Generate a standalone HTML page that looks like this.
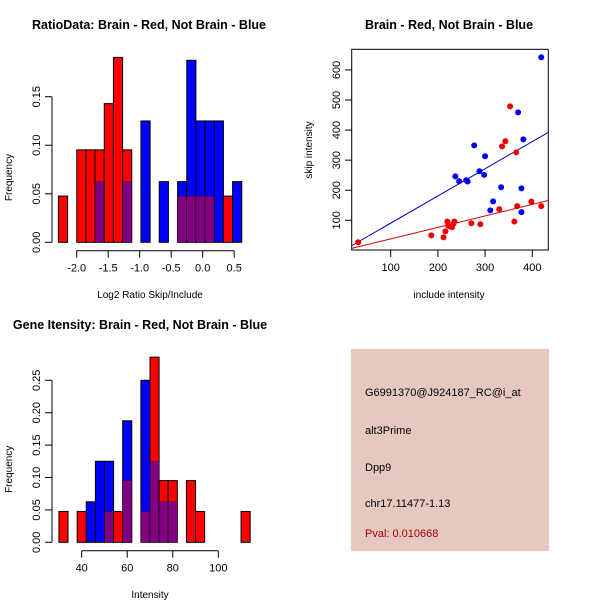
<!DOCTYPE html>
<html><head><meta charset="utf-8"><style>
html,body{margin:0;padding:0;background:#fff;}
svg{display:block;font-family:"Liberation Sans",sans-serif;}
</style></head><body>
<svg id="fig" width="600" height="600" viewBox="0 0 600 600">
<text x="149" y="29" font-size="12.5" font-weight="bold" text-anchor="middle">RatioData: Brain - Red, Not Brain - Blue</text>
<text x="449" y="29" font-size="12.5" font-weight="bold" text-anchor="middle">Brain - Red, Not Brain - Blue</text>
<text x="140" y="329" font-size="12.5" font-weight="bold" text-anchor="middle">Gene Itensity: Brain - Red, Not Brain - Blue</text>
<g id="p1"></g>
<g id="p2"></g>
<g id="p3"></g>
<g>
<rect x="351" y="349" width="198" height="202" fill="#e6c8c1"/>
<text x="365" y="396" font-size="11">G6991370@J924187_RC@i_at</text>
<text x="365" y="434" font-size="11">alt3Prime</text>
<text x="365" y="471" font-size="11">Dpp9</text>
<text x="365" y="507" font-size="11">chr17.11477-1.13</text>
<text x="365" y="537" font-size="11" fill="#a00000">Pval: 0.010668</text>
</g>
</svg>
<script>
// Ratio histogram data (counts per bin)
const ratioStart = -2.29;
const ratioBinWidth = 0.1455;
const ratioRedCounts = [1,0,2,2,2,3,4,2,0,0,0,0,0,1,1,1,1,0,1,0];
const ratioBlueCounts = [0,0,0,0,1,0,0,1,0,2,0,1,0,1,3,2,2,2,0,1];
const ratioXTicks = [-2.0,-1.5,-1.0,-0.5,0.0,0.5];
const ratioYTicks = [0,0.05,0.10,0.15];
// Intensity histogram data
const intStart = 30;
const intBinWidth = 4;
const intRedCounts = [1,0,1,0,0,1,1,2,0,1,6,2,2,0,2,1,0,0,0,0,1];
const intBlueCounts = [0,0,0,1,2,2,0,3,0,4,2,1,1,0,0,0,0,0,0,0,0];
const intXTicks = [40,60,80,100];
const intYTicks = [0,0.05,0.10,0.15,0.20,0.25];
// Scatter data
const blueX = [419,370,381,277,300,288,298,237,245,260,263,334,377,317,311,377];
const blueY = [642,459,369,349,313,263,251,246,230,233,229,210,206,163,133,127];
const redX = [31,353,343,336,366,186,212,216,220,222,227,230,233,235,271,290,330,368,398,419,362];
const redY = [27,479,363,346,326,50,43,63,96,82,79,77,89,96,90,87,137,147,162,147,96];
const scXTicks = [100,200,300,400];
const scYTicks = [100,200,300,400,500,600];

const NS='http://www.w3.org/2000/svg';
function mk(parent,tag,attrs){const e=document.createElementNS(NS,tag);for(const k in attrs)e.setAttribute(k,attrs[k]);parent.appendChild(e);return e;}

function hist(g,start,bw,red,blue,xt,yt,xs,ys,axY,xlab,xlabY,fmtX,fmtY){
  const nr=red.reduce((a,b)=>a+b,0), nb=blue.reduce((a,b)=>a+b,0);
  for(let i=0;i<red.length;i++){
    const fr=red[i]/nr, fb=blue[i]/nb;
    const x0=xs(start+i*bw), x1=xs(start+(i+1)*bw);
    const hi=Math.max(fr,fb), lo=Math.min(fr,fb);
    if(hi>0){
      const r=mk(g,'rect',{x:x0,y:ys(hi),width:x1-x0,height:ys(0)-ys(hi),fill:fr>=fb?'#ff0000':'#0000ff',stroke:'#000','stroke-width':1});
      
      
    }
    if(lo>0){
      const p=mk(g,'rect',{x:x0,y:ys(lo),width:x1-x0,height:ys(0)-ys(lo),fill:'#800080',stroke:'#000','stroke-width':0.6,'stroke-opacity':0.5});
      
      
    }
  }
  const ya=mk(g,'line',{x1:52,x2:52,y1:ys(yt[0]),y2:ys(yt[yt.length-1]),stroke:'#000'});
  
  yt.forEach(v=>{
    mk(g,'line',{x1:45,x2:52,y1:ys(v),y2:ys(v),stroke:'#000'});
    const t=mk(g,'text',{x:0,y:0,'font-size':11,'text-anchor':'middle',transform:`translate(40,${ys(v)}) rotate(-90)`});
    t.textContent=fmtY(v);
    
  });
  const xa=mk(g,'line',{x1:xs(xt[0]),x2:xs(xt[xt.length-1]),y1:axY,y2:axY,stroke:'#000'});
  
  xt.forEach(v=>{
    mk(g,'line',{x1:xs(v),x2:xs(v),y1:axY,y2:axY+7,stroke:'#000'});
    const t=mk(g,'text',{x:xs(v),y:axY+21,'font-size':11,'text-anchor':'middle'});
    t.textContent=fmtX(v);
    
  });
  const yl=mk(g,'text',{x:0,y:0,'font-size':10,'text-anchor':'middle',transform:`translate(12,${(ys(0)+ys(yt[yt.length-1]))/2+8}) rotate(-90)`});
  yl.textContent='Frequency';
  const xl=mk(g,'text',{x:150,y:xlabY,'font-size':10,'text-anchor':'middle'});
  xl.textContent=xlab;
}

hist(document.getElementById('p1'),ratioStart,ratioBinWidth,ratioRedCounts,ratioBlueCounts,ratioXTicks,ratioYTicks,
  v=>76.7+(v+2.0)*63, v=>242.3-v*970.7, 250.7,'Log2 Ratio Skip/Include',298,
  v=>v.toFixed(1), v=>v.toFixed(2));
hist(document.getElementById('p3'),intStart,intBinWidth,intRedCounts,intBlueCounts,intXTicks,intYTicks,
  v=>81.7+(v-40)*2.2767, v=>542.3-v*648, 550.7,'Intensity',598,
  v=>String(v), v=>v.toFixed(2));

(function(){
  const g=document.getElementById('p2');
  const xs=v=>351.7+(v-17.4)*0.472, ys=v=>250-(v-1.2)*0.3007;
  const box=mk(g,'rect',{x:351.7,y:49.3,width:196.6,height:200.7,fill:'none',stroke:'#000'});
  
  scXTicks.forEach(v=>{
    mk(g,'line',{x1:xs(v),x2:xs(v),y1:250,y2:257,stroke:'#000'});
    const t=mk(g,'text',{x:xs(v),y:271,'font-size':11,'text-anchor':'middle'});t.textContent=v;
    
  });
  scYTicks.forEach(v=>{
    mk(g,'line',{x1:345,x2:351.7,y1:ys(v),y2:ys(v),stroke:'#000'});
    const t=mk(g,'text',{x:0,y:0,'font-size':11,'text-anchor':'middle',transform:`translate(340,${ys(v)}) rotate(-90)`});t.textContent=v;
    
  });
  const xl=mk(g,'text',{x:449,y:298,'font-size':10,'text-anchor':'middle'});xl.textContent='include intensity';
  
  const yl=mk(g,'text',{x:0,y:0,'font-size':10,'text-anchor':'middle',transform:'translate(312,150) rotate(-90)'});yl.textContent='skip intensity';
  
  function fitLine(X,Y,col,name){
    // robust slope through origin: median of y/x ratios
    const r=X.map((x,i)=>Y[i]/x).sort((a,b)=>a-b);
    const n=r.length, b=n%2?r[(n-1)/2]:(r[n/2-1]+r[n/2])/2;
    const xa=17.4, xb=434;
    const l=mk(g,'line',{x1:xs(xa),y1:ys(b*xa),x2:xs(xb),y2:ys(b*xb),stroke:col,'stroke-width':1});
    
  }
  fitLine(blueX,blueY,'#0000cc','blue-fit-line');
  fitLine(redX,redY,'#cc0000','red-fit-line');
  blueX.forEach((x,i)=>{const c=mk(g,'circle',{cx:xs(x),cy:ys(blueY[i]),r:3,fill:'#0000ff'});
    });
  redX.forEach((x,i)=>{const c=mk(g,'circle',{cx:xs(x),cy:ys(redY[i]),r:3,fill:'#ee0000'});
    });
})();
</script>
</body></html>
